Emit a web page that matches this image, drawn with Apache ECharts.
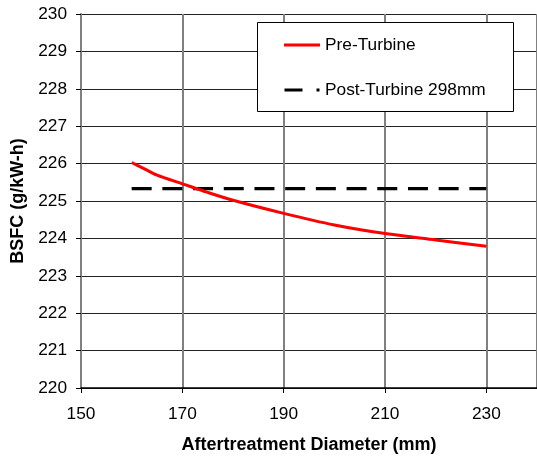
<!DOCTYPE html>
<html>
<head>
<meta charset="utf-8">
<script src="https://cdn.jsdelivr.net/npm/echarts@6/dist/echarts.min.js"></script>
<style>html,body{margin:0;padding:0;background:#fff;}#c{width:537px;height:459px;}</style>
</head>
<body>
<div id="c"></div>
<script>
const diameters = [160, 162.5, 165, 170, 175, 180, 190, 200, 210, 220, 230];
const preTurbine = [226.03, 225.86, 225.69, 225.46, 225.23, 225.02, 224.67, 224.36, 224.13, 223.96, 223.79];
const postX = [160, 230];
const postTurbine = [225.33, 225.33];
const seriesNames = ['Pre-Turbine', 'Post-Turbine 298mm'];

const font = '"Liberation Sans", Arial, sans-serif';
const chart = echarts.init(document.getElementById('c'), null, {renderer: 'canvas'});
chart.setOption({
  animation: false,
  backgroundColor: '#fff',
  grid: {left: 81, right: -7, top: 14, bottom: 70, containLabel: false},
  xAxis: {
    type: 'value', min: 150, max: 240, interval: 20,
    name: 'Aftertreatment Diameter (mm)', nameLocation: 'middle', nameGap: 48,
    nameTextStyle: {fontFamily: font, fontSize: 18, fontWeight: 'bold', color: '#000'},
    axisLine: {show: true, lineStyle: {color: '#000', width: 1.5}},
    axisTick: {show: true, length: 5, lineStyle: {color: '#000', width: 1}},
    axisLabel: {fontFamily: font, fontSize: 17.3, color: '#000', margin: 18, showMaxLabel: false},
    splitLine: {show: true, lineStyle: {color: '#808080', width: 2}}
  },
  yAxis: {
    type: 'value', min: 220, max: 230, interval: 1,
    name: 'BSFC (g/kW-h)', nameLocation: 'middle', nameGap: 48,
    nameTextStyle: {fontFamily: font, fontSize: 18, fontWeight: 'bold', color: '#000'},
    axisLine: {show: true, lineStyle: {color: '#808080', width: 2}},
    axisTick: {show: true, length: 5, lineStyle: {color: '#000', width: 1}},
    axisLabel: {fontFamily: font, fontSize: 17.3, color: '#000', margin: 14},
    splitLine: {show: true, lineStyle: {color: '#222', width: 1}}
  },
  legend: {
    orient: 'vertical', left: 284, top: 35, padding: 0,
    itemGap: 25, itemWidth: 36, itemHeight: 3, itemTextGap: 4,
    textStyle: {fontFamily: font, fontSize: 17.3, color: '#000', lineHeight: 20},
    data: [
      {name: seriesNames[0], icon: 'rect'},
      {name: seriesNames[1], icon: 'path://M0,0H18V3H0Z M32,0H35V3H32Z'}
    ]
  },
  graphic: [{
    type: 'rect', left: 257, top: 22, z: 1,
    shape: {width: 256, height: 89},
    style: {fill: '#fff', stroke: '#000', lineWidth: 1}
  }],
  series: [
    {
      name: seriesNames[0], type: 'line', showSymbol: false, symbol: 'none', smooth: 0.3,
      data: diameters.map((d, i) => [d, preTurbine[i]]),
      lineStyle: {color: '#ff0000', width: 3}, itemStyle: {color: '#ff0000'}, z: 3
    },
    {
      name: seriesNames[1], type: 'line', showSymbol: false, symbol: 'none',
      data: postX.map((d, i) => [d, postTurbine[i]]),
      lineStyle: {color: '#000', width: 3.3, type: [20, 10.7]}, itemStyle: {color: '#000'}, z: 2
    }
  ]
});
</script>
</body>
</html>
